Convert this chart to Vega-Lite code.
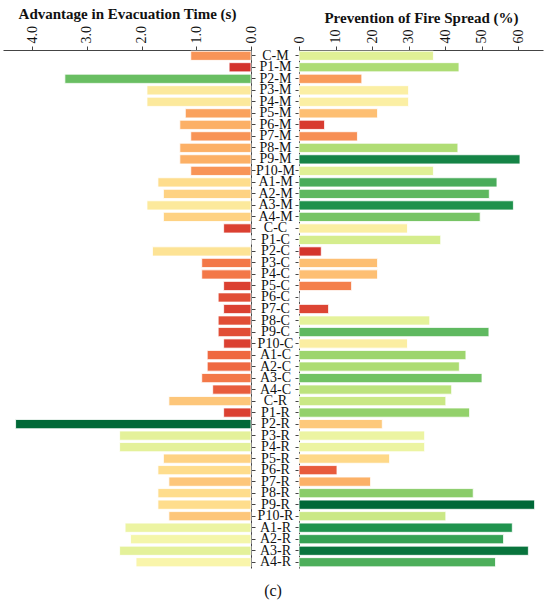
{
  "$schema": "https://vega.github.io/schema/vega-lite/v6.json",
  "description": "Advantage in evacuation time and prevention of fire spread per case",
  "background": "white",
  "padding": {"left": 3, "top": 6, "right": 5, "bottom": 4},
  "config": {
    "view": {"stroke": null},
    "font": "Liberation Serif",
    "axis": {
      "grid": false,
      "domainColor": "#444444",
      "tickColor": "#444444",
      "labelColor": "#111111",
      "titleColor": "#111111",
      "labelFont": "Liberation Serif",
      "titleFont": "Liberation Serif"
    }
  },
  "data": {
    "values": [
      {"case": "C-M", "time": 1.1, "spread": 36.8},
      {"case": "P1-M", "time": 0.4, "spread": 43.8},
      {"case": "P2-M", "time": 3.4, "spread": 17.2},
      {"case": "P3-M", "time": 1.9, "spread": 30.0},
      {"case": "P4-M", "time": 1.9, "spread": 30.0},
      {"case": "P5-M", "time": 1.2, "spread": 21.5},
      {"case": "P6-M", "time": 1.3, "spread": 7.0},
      {"case": "P7-M", "time": 1.1, "spread": 16.0},
      {"case": "P8-M", "time": 1.3, "spread": 43.5},
      {"case": "P9-M", "time": 1.3, "spread": 60.5},
      {"case": "P10-M", "time": 1.1, "spread": 36.8},
      {"case": "A1-M", "time": 1.7, "spread": 54.2},
      {"case": "A2-M", "time": 1.6, "spread": 52.1},
      {"case": "A3-M", "time": 1.9, "spread": 58.7},
      {"case": "A4-M", "time": 1.6, "spread": 49.6},
      {"case": "C-C", "time": 0.5, "spread": 29.7},
      {"case": "P1-C", "time": 0.0, "spread": 38.8},
      {"case": "P2-C", "time": 1.8, "spread": 6.1},
      {"case": "P3-C", "time": 0.9, "spread": 21.5},
      {"case": "P4-C", "time": 0.9, "spread": 21.5},
      {"case": "P5-C", "time": 0.5, "spread": 14.4},
      {"case": "P6-C", "time": 0.6, "spread": 0.0},
      {"case": "P7-C", "time": 0.5, "spread": 8.1},
      {"case": "P8-C", "time": 0.6, "spread": 35.8},
      {"case": "P9-C", "time": 0.6, "spread": 52.0},
      {"case": "P10-C", "time": 0.5, "spread": 29.7},
      {"case": "A1-C", "time": 0.8, "spread": 45.7},
      {"case": "A2-C", "time": 0.8, "spread": 43.9},
      {"case": "A3-C", "time": 0.9, "spread": 50.1},
      {"case": "A4-C", "time": 0.7, "spread": 41.8},
      {"case": "C-R", "time": 1.5, "spread": 40.2},
      {"case": "P1-R", "time": 0.5, "spread": 46.7},
      {"case": "P2-R", "time": 4.3, "spread": 22.8},
      {"case": "P3-R", "time": 2.4, "spread": 34.4},
      {"case": "P4-R", "time": 2.4, "spread": 34.4},
      {"case": "P5-R", "time": 1.6, "spread": 24.8},
      {"case": "P6-R", "time": 1.7, "spread": 10.4},
      {"case": "P7-R", "time": 1.5, "spread": 19.6},
      {"case": "P8-R", "time": 1.7, "spread": 47.7},
      {"case": "P9-R", "time": 1.7, "spread": 64.5},
      {"case": "P10-R", "time": 1.5, "spread": 40.2},
      {"case": "A1-R", "time": 2.3, "spread": 58.4},
      {"case": "A2-R", "time": 2.2, "spread": 56.0},
      {"case": "A3-R", "time": 2.4, "spread": 62.8},
      {"case": "A4-R", "time": 2.1, "spread": 53.8}
    ]
  },
  "title": {
    "text": "(c)",
    "orient": "bottom",
    "anchor": "middle",
    "font": "Liberation Serif",
    "fontSize": 16,
    "fontWeight": "normal",
    "color": "#111111",
    "offset": 14
  },
  "bounds": "flush",
  "spacing": 48,
  "resolve": {"scale": {"color": "independent"}},
  "hconcat": [
    {
      "width": 248,
      "height": 518,
      "mark": {"type": "bar", "stroke": "white", "strokeWidth": 0.8},
      "encoding": {
        "y": {
          "field": "case",
          "type": "nominal",
          "sort": null,
          "scale": {"paddingInner": 0.2, "paddingOuter": 0.1},
          "axis": {"orient": "right", "labels": false, "title": null, "tickSize": 4}
        },
        "x": {
          "field": "time",
          "type": "quantitative",
          "scale": {"domain": [0, 4.53], "reverse": true, "nice": false},
          "axis": {
            "orient": "top",
            "title": "Advantage in Evacuation Time (s)",
            "titleFontSize": 15,
            "titleFontWeight": "bold",
            "titlePadding": 4,
            "values": [0, 1, 2, 3, 4],
            "format": ".1f",
            "labelAngle": -90,
            "labelAlign": "left",
            "labelBaseline": "middle",
            "labelFontSize": 14,
            "labelPadding": 3,
            "tickSize": 4
          }
        },
        "color": {
          "field": "time",
          "type": "quantitative",
          "scale": {"scheme": {"name": "redyellowgreen", "extent": [0.1, 1]}, "domain": [0.4, 4.3], "clamp": true},
          "legend": null
        }
      }
    },
    {
      "width": 244,
      "height": 518,
      "mark": {"type": "bar", "stroke": "white", "strokeWidth": 0.8},
      "encoding": {
        "y": {
          "field": "case",
          "type": "nominal",
          "sort": null,
          "scale": {"paddingInner": 0.2, "paddingOuter": 0.1},
          "axis": {
            "orient": "left",
            "title": null,
            "tickSize": 4,
            "labelAlign": "center",
            "labelPadding": 20,
            "labelFontSize": 14
          }
        },
        "x": {
          "field": "spread",
          "type": "quantitative",
          "scale": {"domain": [0, 66.8], "nice": false},
          "axis": {
            "orient": "top",
            "title": "Prevention of Fire Spread (%)",
            "titleFontSize": 15,
            "titleFontWeight": "bold",
            "titlePadding": 4,
            "values": [0, 10, 20, 30, 40, 50, 60],
            "labelAngle": -90,
            "labelAlign": "left",
            "labelBaseline": "middle",
            "labelFontSize": 14,
            "labelPadding": 3,
            "tickSize": 4
          }
        },
        "color": {
          "field": "spread",
          "type": "quantitative",
          "scale": {"scheme": {"name": "redyellowgreen", "extent": [0.1, 1]}, "domain": [6, 64.5], "clamp": true},
          "legend": null
        }
      }
    }
  ]
}
